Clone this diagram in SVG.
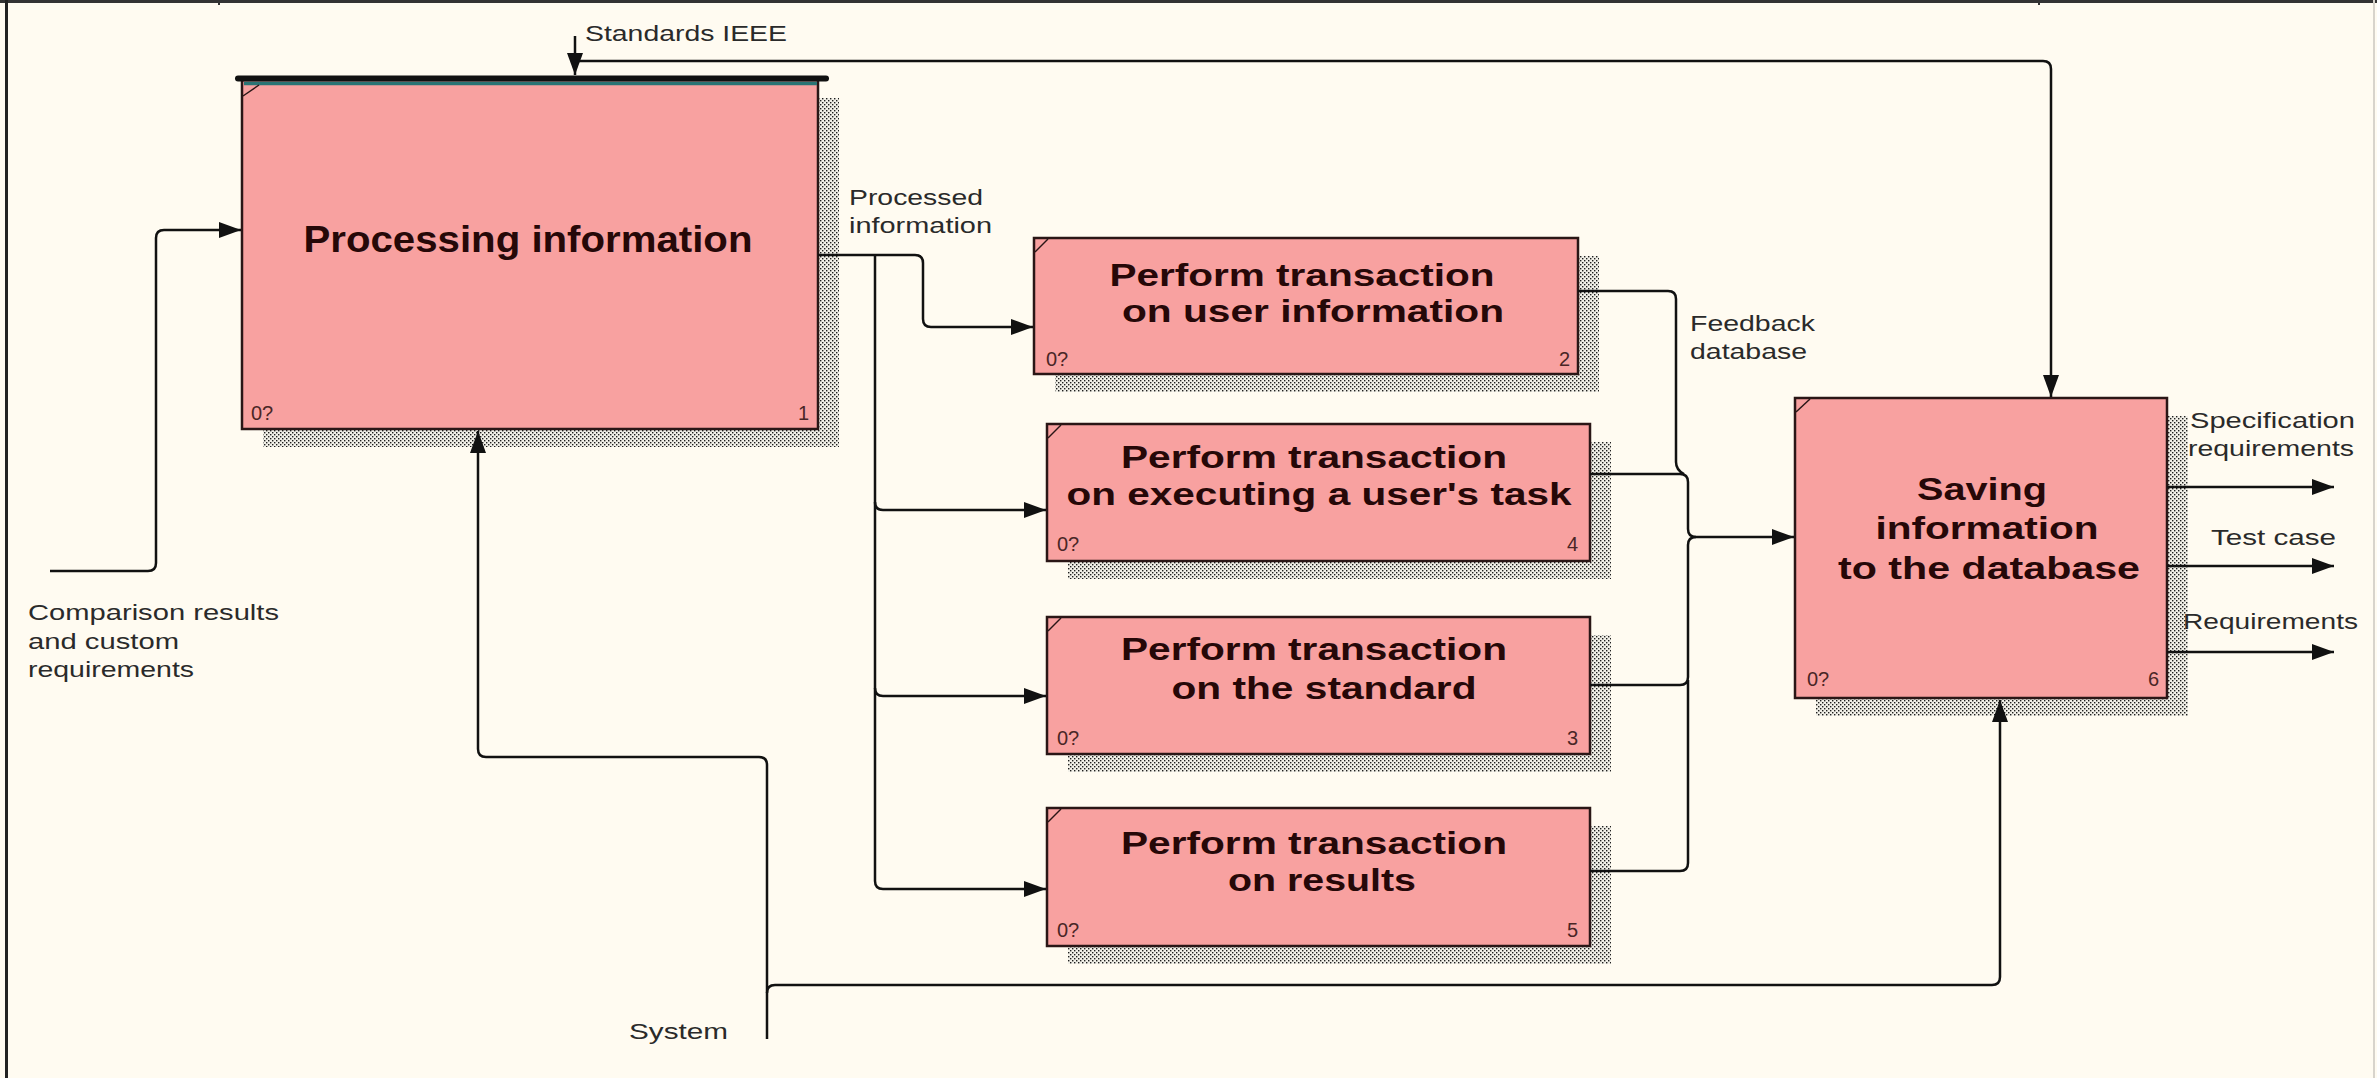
<svg xmlns="http://www.w3.org/2000/svg" width="2377" height="1078" viewBox="0 0 2377 1078">
<defs>
<pattern id="hatch" width="4" height="4" patternUnits="userSpaceOnUse">
<rect width="4" height="4" fill="#f2f0e8"/>
<rect x="0" y="0" width="1.4" height="1.4" fill="#1e1e1e"/>
<rect x="2" y="2" width="1.4" height="1.4" fill="#1e1e1e"/>
</pattern>
<marker id="arr" viewBox="0 0 22 16" refX="22" refY="8" markerWidth="22" markerHeight="16" markerUnits="userSpaceOnUse" orient="auto">
<path d="M0,0 L22,8 L0,16 z" fill="#111"/>
</marker>
<style>
.box{fill:#f8a1a0;stroke:#2a1616;stroke-width:2.5}
.shadow{fill:url(#hatch)}
.corner{stroke:#2a1616;stroke-width:1.5;fill:none}
.title{font-family:"Liberation Sans",Arial,sans-serif;font-weight:bold;fill:#260808;text-anchor:middle}
.num{font-family:"Liberation Sans",Arial,sans-serif;font-size:20px;fill:#4a2626}
.lbl{font-family:"Liberation Sans",Arial,sans-serif;font-size:22px;fill:#2a2a2a}
.wire{fill:none;stroke:#111;stroke-width:2.5}
.arrow{marker-end:url(#arr)}
</style>
</defs>
<rect width="2377" height="1078" fill="#fffbf1"/>
<g id="frame">
<line x1="0" y1="1.5" x2="2377" y2="1.5" stroke="#333" stroke-width="3"/>
<line x1="6.5" y1="0" x2="6.5" y2="1078" stroke="#222" stroke-width="3"/>
<line x1="2374" y1="0" x2="2374" y2="1078" stroke="#d8d4cc" stroke-width="2"/>
<line x1="219" y1="0" x2="219" y2="5" stroke="#333" stroke-width="2"/>
<line x1="2039" y1="0" x2="2039" y2="5" stroke="#333" stroke-width="2"/>
</g>
<g id="node1">
<rect class="shadow" x="263" y="98" width="576" height="349"/>
<rect class="box" x="242" y="80" width="576" height="349"/>
<line x1="238" y1="78.5" x2="826" y2="78.5" stroke="#111" stroke-width="6" stroke-linecap="round"/>
<line x1="244" y1="83.5" x2="817" y2="83.5" stroke="#2a7474" stroke-width="3.5"/>
<line class="corner" x1="243" y1="96" x2="259" y2="85"/>
<text class="title" x="528" y="252" font-size="36" textLength="449" lengthAdjust="spacingAndGlyphs">Processing information</text>
<text class="num" x="251" y="420">0?</text>
<text class="num" x="809" y="420" text-anchor="end">1</text>
</g>
<g id="node2">
<rect class="shadow" x="1055" y="256" width="544" height="136"/>
<rect class="box" x="1034" y="238" width="544" height="136"/>
<line class="corner" x1="1035" y1="252" x2="1048" y2="239"/>
<text class="title" x="1302" y="286" font-size="32" textLength="385" lengthAdjust="spacingAndGlyphs">Perform transaction</text>
<text class="title" x="1313" y="322" font-size="32" textLength="382" lengthAdjust="spacingAndGlyphs">on user information</text>
<text class="num" x="1046" y="366">0?</text>
<text class="num" x="1570" y="366" text-anchor="end">2</text>
</g>
<g id="node4">
<rect class="shadow" x="1068" y="442" width="543" height="137"/>
<rect class="box" x="1047" y="424" width="543" height="137"/>
<line class="corner" x1="1048" y1="438" x2="1061" y2="425"/>
<text class="title" x="1314" y="468" font-size="32" textLength="386" lengthAdjust="spacingAndGlyphs">Perform transaction</text>
<text class="title" x="1319" y="505" font-size="32" textLength="505" lengthAdjust="spacingAndGlyphs">on executing a user's task</text>
<text class="num" x="1057" y="551">0?</text>
<text class="num" x="1578" y="551" text-anchor="end">4</text>
</g>
<g id="node3">
<rect class="shadow" x="1068" y="635" width="543" height="137"/>
<rect class="box" x="1047" y="617" width="543" height="137"/>
<line class="corner" x1="1048" y1="631" x2="1061" y2="618"/>
<text class="title" x="1314" y="660" font-size="32" textLength="386" lengthAdjust="spacingAndGlyphs">Perform transaction</text>
<text class="title" x="1324" y="699" font-size="32" textLength="305" lengthAdjust="spacingAndGlyphs">on the standard</text>
<text class="num" x="1057" y="745">0?</text>
<text class="num" x="1578" y="745" text-anchor="end">3</text>
</g>
<g id="node5">
<rect class="shadow" x="1068" y="826" width="543" height="138"/>
<rect class="box" x="1047" y="808" width="543" height="138"/>
<line class="corner" x1="1048" y1="822" x2="1061" y2="809"/>
<text class="title" x="1314" y="854" font-size="32" textLength="386" lengthAdjust="spacingAndGlyphs">Perform transaction</text>
<text class="title" x="1322" y="891" font-size="32" textLength="188" lengthAdjust="spacingAndGlyphs">on results</text>
<text class="num" x="1057" y="937">0?</text>
<text class="num" x="1578" y="937" text-anchor="end">5</text>
</g>
<g id="node6">
<rect class="shadow" x="1816" y="416" width="372" height="300"/>
<rect class="box" x="1795" y="398" width="372" height="300"/>
<line class="corner" x1="1796" y1="412" x2="1810" y2="399"/>
<text class="title" x="1982" y="500" font-size="32" textLength="130" lengthAdjust="spacingAndGlyphs">Saving</text>
<text class="title" x="1987" y="539" font-size="32" textLength="223" lengthAdjust="spacingAndGlyphs">information</text>
<text class="title" x="1989" y="579" font-size="32" textLength="302" lengthAdjust="spacingAndGlyphs">to the database</text>
<text class="num" x="1807" y="686">0?</text>
<text class="num" x="2159" y="686" text-anchor="end">6</text>
</g>
<g id="connectors">
<path class="wire arrow" d="M575,36 L575,75"/>
<path class="wire arrow" d="M575,61 L2043,61 Q2051,61 2051,69 L2051,397"/>
<path class="wire arrow" d="M50,571 L148,571 Q156,571 156,563 L156,238 Q156,230 164,230 L241,230"/>
<path class="wire arrow" d="M767,1039 L767,765 Q767,757 759,757 L486,757 Q478,757 478,749 L478,431"/>
<path class="wire arrow" d="M767,993 Q767,985 775,985 L1992,985 Q2000,985 2000,977 L2000,700"/>
<path class="wire arrow" d="M818,255 L915,255 Q923,255 923,263 L923,319 Q923,327 931,327 L1033,327"/>
<path class="wire arrow" d="M875,255 L875,881 Q875,889 883,889 L1046,889"/>
<path class="wire arrow" d="M875,502 Q875,510 883,510 L1046,510"/>
<path class="wire arrow" d="M875,688 Q875,696 883,696 L1046,696"/>
<path class="wire" d="M1578,291 L1668,291 Q1676,291 1676,299 L1676,462 Q1676,470 1684,474"/>
<path class="wire arrow" d="M1590,474 L1680,474 Q1688,474 1688,482 L1688,529 Q1688,537 1696,537 L1794,537"/>
<path class="wire" d="M1590,685 L1680,685 Q1688,685 1688,677 L1688,545 Q1688,537 1696,537"/>
<path class="wire" d="M1590,871 L1680,871 Q1688,871 1688,863 L1688,680"/>
<path class="wire arrow" d="M2167,487 L2334,487"/>
<path class="wire arrow" d="M2167,566 L2334,566"/>
<path class="wire arrow" d="M2167,652 L2334,652"/>
</g>
<g id="labels">
<text class="lbl" x="585" y="41" textLength="202" lengthAdjust="spacingAndGlyphs">Standards IEEE</text>
<text class="lbl" x="849" y="205" textLength="134" lengthAdjust="spacingAndGlyphs">Processed</text>
<text class="lbl" x="849" y="233" textLength="143" lengthAdjust="spacingAndGlyphs">information</text>
<text class="lbl" x="28" y="620" textLength="251" lengthAdjust="spacingAndGlyphs">Comparison results</text>
<text class="lbl" x="28" y="649" textLength="151" lengthAdjust="spacingAndGlyphs">and custom</text>
<text class="lbl" x="28" y="677" textLength="166" lengthAdjust="spacingAndGlyphs">requirements</text>
<text class="lbl" x="629" y="1039" textLength="99" lengthAdjust="spacingAndGlyphs">System</text>
<text class="lbl" x="1690" y="331" textLength="125" lengthAdjust="spacingAndGlyphs">Feedback</text>
<text class="lbl" x="1690" y="359" textLength="117" lengthAdjust="spacingAndGlyphs">database</text>
<text class="lbl" x="2190" y="428" textLength="165" lengthAdjust="spacingAndGlyphs">Specification</text>
<text class="lbl" x="2188" y="456" textLength="166" lengthAdjust="spacingAndGlyphs">requirements</text>
<text class="lbl" x="2211" y="545" textLength="125" lengthAdjust="spacingAndGlyphs">Test case</text>
<text class="lbl" x="2183" y="629" textLength="175" lengthAdjust="spacingAndGlyphs">Requirements</text>
</g>
</svg>
